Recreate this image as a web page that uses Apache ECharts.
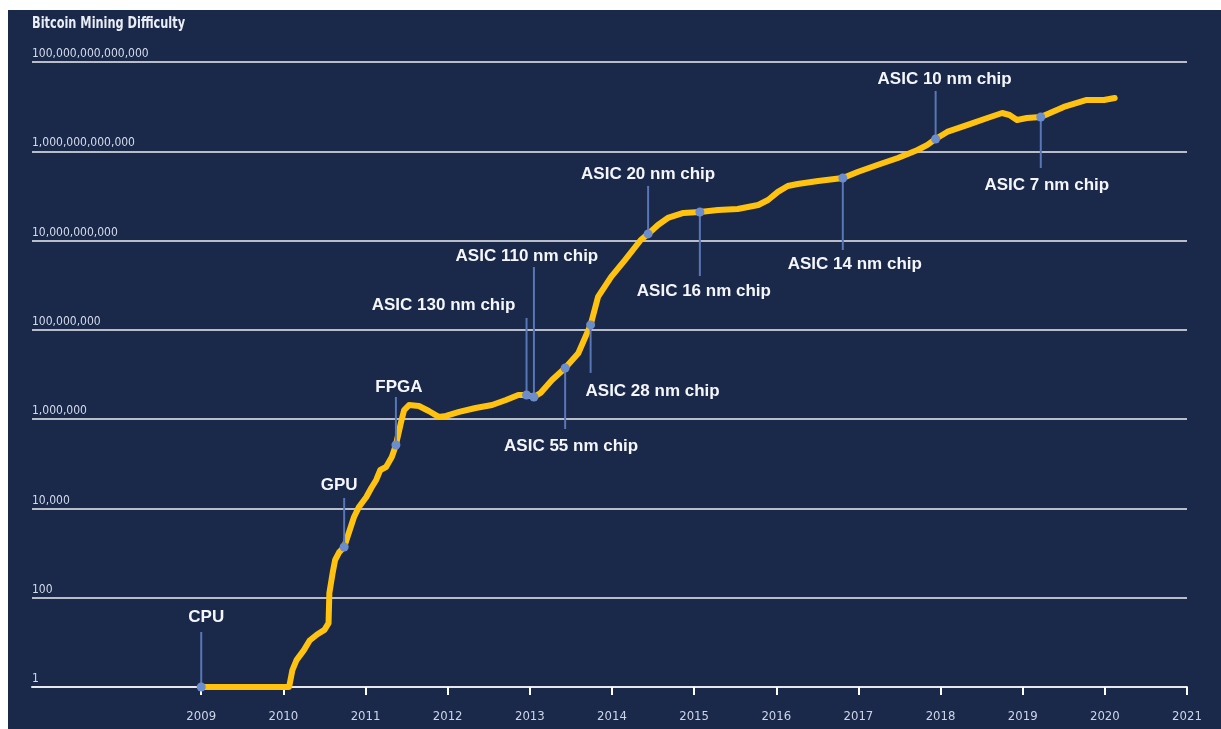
<!DOCTYPE html>
<html>
<head>
<meta charset="utf-8">
<title>Bitcoin Mining Difficulty</title>
<script src="https://cdn.jsdelivr.net/npm/echarts@6/dist/echarts.min.js"></script>
<style>
  html, body { margin: 0; padding: 0; background: #ffffff; }
  #chart { position: absolute; left: 8px; top: 10px; width: 1213px; height: 719px; background: #1a2849; }
</style>
</head>
<body>
<div id="chart"></div>
<script>
// Difficulty history (decimal year, difficulty)
const years = [
  2009.00, 2010.07, 2010.11, 2010.16, 2010.25, 2010.32, 2010.41, 2010.50, 2010.55, 2010.56,
  2010.60, 2010.63, 2010.68, 2010.74, 2010.80, 2010.86, 2010.92, 2011.01, 2011.07, 2011.13,
  2011.18, 2011.25, 2011.32, 2011.37, 2011.43, 2011.47, 2011.53, 2011.65, 2011.77, 2011.89,
  2011.98, 2012.14, 2012.34, 2012.54, 2012.71, 2012.86, 2012.96, 2013.05, 2013.13, 2013.27,
  2013.43, 2013.59, 2013.74, 2013.83, 2013.99, 2014.16, 2014.35, 2014.44, 2014.56, 2014.68,
  2014.87, 2015.07, 2015.29, 2015.53, 2015.78, 2015.90, 2016.02, 2016.14, 2016.26, 2016.51,
  2016.81, 2016.99, 2017.23, 2017.48, 2017.72, 2017.84, 2017.94, 2018.08, 2018.33, 2018.57,
  2018.75, 2018.84, 2018.93, 2019.05, 2019.22, 2019.50, 2019.78, 2019.99, 2020.12
];
const difficulty = [
  1, 1, 2.4, 4.0, 6.7, 11, 15, 19, 27, 128,
  360, 700, 1050, 1370, 2970, 6430, 10800, 18000, 28700, 43400,
  72600, 84800, 142000, 264000, 820000, 1600000, 2070000, 1970000, 1520000, 1120000,
  1180000, 1450000, 1780000, 2070000, 2690000, 3480000, 3480000, 3130000, 3850000, 7500000,
  14000000, 30000000, 129000000, 546000000, 1530000000, 3680000000, 10300000000, 14100000000, 22400000000, 32100000000,
  41500000000, 43700000000, 48500000000, 51000000000, 62800000000, 81000000000, 123000000000, 167000000000, 185000000000, 216000000000,
  252000000000, 344000000000, 494000000000, 708000000000, 1.07e12, 1.39e12, 1.89e12, 2.71e12, 3.89e12, 5.58e12,
  7.2e12, 6.5e12, 5.03e12, 5.58e12, 5.87e12, 9.84e12, 1.41e13, 1.41e13, 1.56e13
];

// Hardware milestones on the curve
const milestoneNames = [
  'CPU', 'GPU', 'FPGA', 'ASIC 130 nm chip', 'ASIC 110 nm chip', 'ASIC 55 nm chip',
  'ASIC 28 nm chip', 'ASIC 20 nm chip', 'ASIC 16 nm chip', 'ASIC 14 nm chip',
  'ASIC 10 nm chip', 'ASIC 7 nm chip'
];
const milestoneYears = [
  2009.00, 2010.74, 2011.37, 2012.96, 2013.05, 2013.43,
  2013.74, 2014.44, 2015.07, 2016.81, 2017.94, 2019.22
];
const milestoneValues = [
  1, 1370, 264000, 3480000, 3130000, 14000000,
  129000000, 14100000000, 43700000000, 252000000000, 1.89e12, 5.87e12
];

// Axis ticks
const xTickYears = [2009, 2010, 2011, 2012, 2013, 2014, 2015, 2016, 2017, 2018, 2019, 2020, 2021];
const yTickLabels = ['1', '100', '10,000', '1,000,000', '100,000,000', '10,000,000,000',
  '1,000,000,000,000', '100,000,000,000,000'];

// Callout geometry in pixels: [leader length (neg = up), label dx, label dy]
const callouts = [
  [-55, 5, -70], [-49, -5, -62], [-48, 3, -58], [-77, -83, -90],
  [-130, -7, -141], [61, 6, 78], [48, 62, 66], [-48, 0, -60],
  [64, 4, 79], [72, 12, 86], [-48, 9, -60], [51, 6, 68]
];

const curve = years.map((y, i) => [y, difficulty[i]]);
const milestones = milestoneYears.map((y, i) => [y, milestoneValues[i], milestoneNames[i]]);

const axisFont = "'DejaVu Sans Condensed', 'Liberation Sans Narrow', sans-serif";

const chart = echarts.init(document.getElementById('chart'), null, { renderer: 'canvas' });

chart.setOption({
  backgroundColor: '#1a2849',
  animation: false,
  graphic: [
    {
      type: 'text',
      left: 24,
      top: 7,
      scaleX: 0.84,
      style: {
        text: 'Bitcoin Mining Difficulty',
        fill: '#e9edf5',
        font: "bold 15px 'DejaVu Sans Condensed', sans-serif"
      }
    }
  ],
  grid: { left: 24, right: 34, top: 52, bottom: 42, containLabel: false, outerBoundsMode: 'none' },
  xAxis: {
    type: 'value',
    min: 2006.94,
    max: 2021,
    splitLine: { show: false },
    axisLine: { show: true, lineStyle: { color: '#e6e8ee', width: 2 } },
    axisTick: {
      show: true, length: 8, customValues: xTickYears,
      lineStyle: { color: '#ffffff', width: 2 }
    },
    axisLabel: {
      customValues: xTickYears,
      color: '#cdd5e8', fontFamily: axisFont, fontSize: 13, margin: 23,
      formatter: v => String(Math.round(v))
    }
  },
  yAxis: {
    type: 'log',
    logBase: 100,
    min: 1,
    max: 1e14,
    axisLine: { show: false },
    axisTick: { show: false },
    splitLine: { show: true, lineStyle: { color: '#b9bdca', width: 2 } },
    axisLabel: {
      inside: true,
      margin: 0,
      align: 'left',
      verticalAlign: 'bottom',
      padding: [0, 0, 2, 0],
      showMinLabel: true,
      showMaxLabel: true,
      color: '#d3dbec', fontFamily: axisFont, fontSize: 12,
      formatter: (v, idx) => yTickLabels[idx] !== undefined ? yTickLabels[idx] : ''
    }
  },
  series: [
    {
      type: 'line',
      data: curve,
      showSymbol: false,
      symbol: 'none',
      smooth: false,
      lineStyle: { color: '#ffc20e', width: 6, cap: 'round', join: 'round' },
      z: 3
    },
    {
      type: 'custom',
      data: milestones,
      z: 5,
      renderItem: (params, api) => {
        const p = api.coord([api.value(0), api.value(1)]);
        const c = callouts[params.dataIndex];
        return {
          type: 'group',
          children: [
            {
              type: 'line',
              shape: { x1: p[0], y1: p[1], x2: p[0], y2: p[1] + c[0] },
              style: { stroke: '#5877b6', lineWidth: 2 }
            },
            {
              type: 'circle',
              shape: { cx: p[0], cy: p[1], r: 4.5 },
              style: { fill: '#6d8cca' }
            },
            {
              type: 'text',
              x: p[0] + c[1],
              y: p[1] + c[2],
              style: {
                text: milestoneNames[params.dataIndex],
                fill: '#f4f6fb',
                font: "bold 17px 'Liberation Sans', Arial, sans-serif",
                align: 'center',
                verticalAlign: 'middle'
              }
            }
          ]
        };
      }
    }
  ]
});
</script>
</body>
</html>
